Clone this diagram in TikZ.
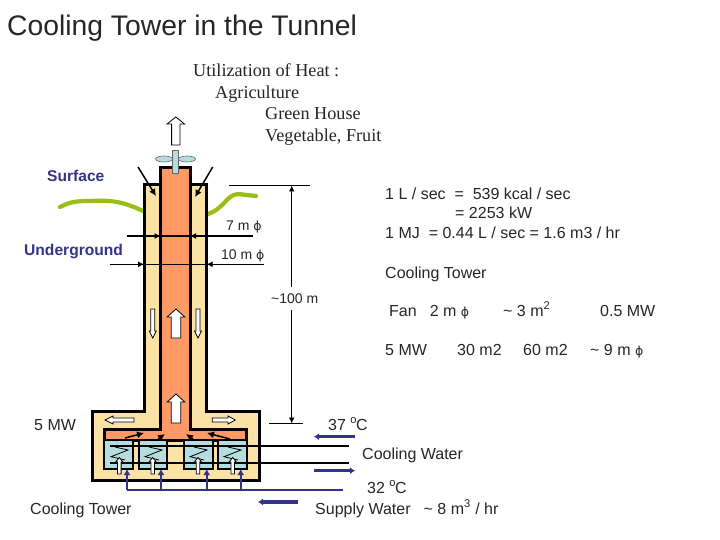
\documentclass[tikz,border=0pt]{standalone}
\usepackage{fontspec}
\setmainfont{Liberation Sans}
\newfontfamily\serifface{Liberation Serif}
\newfontfamily\phiface{DejaVu Sans}
\usetikzlibrary{arrows.meta}
\definecolor{flame}{HTML}{FF9966}
\definecolor{sand}{HTML}{FBE3A6}
\definecolor{ice}{HTML}{B5DCE0}
\definecolor{grass}{HTML}{99BF14}
\definecolor{navy}{HTML}{333388}
\newcommand{\ph}{{\phiface\fontsize{12.5}{14}\selectfont ϕ}}
\newcommand{\uparrowblock}[6]{\draw[blockarrow] (#1-#5,#3)--(#1-#5,#4)--(#1-#6,#4)--(#1,#2)--(#1+#6,#4)--(#1+#5,#4)--(#1+#5,#3)--cycle;}
\tikzset{
  txt/.style={anchor=base west,inner sep=0pt,font=\fontsize{16}{18}\selectfont,text=black!85},
  smalltxt/.style={txt,font=\fontsize{14}{16}\selectfont},
  sertxt/.style={anchor=base west,inner sep=0pt,font=\serifface\fontsize{18.2}{20}\selectfont,text=black!85},
  zonetxt/.style={anchor=base west,inner sep=0pt,font=\bfseries\fontsize{15.6}{17}\selectfont,text=navy},
  wall/.style={draw=black,line width=3pt,line join=miter},
  blockarrow/.style={draw=black,line width=0.8pt,fill=white,line join=miter},
  dim/.style={draw=black,line width=1.3pt},
  thindim/.style={draw=black,line width=0.9pt},
  dimhead/.style={dim,-{Latex[length=6pt,width=6pt]}},
  thinhead/.style={thindim,-{Latex[length=6pt,width=6pt]}},
  bluearrow/.style={draw=navy,line width=3.4pt,-{Latex[length=5pt,width=7pt]}},
  feed/.style={draw=navy,line width=2pt},
  feedhead/.style={feed,-{Latex[length=6pt,width=7pt]}},
  pipe/.style={draw=black,line width=1.6pt},
  coil/.style={draw=black,line width=0.8pt},
  air/.style={draw=black,line width=1.5pt,-{Latex[length=7pt,width=7pt]}},
  tower/.style={draw=black,line width=2.4pt,fill=ice},
  ground/.style={draw=grass,line width=4.2pt,line cap=round,line join=round},
}
\begin{document}
\begin{tikzpicture}[x=1pt,y=-1pt]
\useasboundingbox (0,0) rectangle (720,540);
\fill[white] (0,0) rectangle (720,540);
% ground
\draw[ground] (60,207) .. controls (70,202) and (75,201) .. (90,201) .. controls (110,200) and (122,201) .. (143,211);
\draw[ground] (208,214) .. controls (225,208) and (226,195) .. (238,194) -- (256,196);
% shafts
\draw[wall,fill=sand] (144,185)--(206.7,185)--(206.7,411)--(259,411)--(259,480)--(92.7,480)--(92.7,411)--(144,411)--cycle;
\draw[wall,fill=flame] (160.7,168)--(190,168)--(190,429)--(246,429)--(246,440)--(104,440)--(104,429)--(160.7,429)--cycle;
% towers
\foreach \a/\b in {104/133,139/167,184/213,218/247}{
  \draw[tower] (\a,440) rectangle (\b,469);
}
% coils
\foreach \c in {119,153,198,232}{
  \draw[coil] (\c-4,447)--(\c+9,450)--(\c-8,456.7)--(\c+6,460);
}
% pipes
\coordinate (pipeA) at (349,446);
\coordinate (pipeB) at (349,463);
\draw[pipe] (110,446)--(pipeA);
\draw[pipe] (110,463)--(pipeB);
% air arrows in chamber
\draw[air] (125,438)--(144,433);
\draw[air] (158,439)--(165,434);
\draw[air] (193,439)--(186,434);
\draw[air] (230,439)--(207,433);
% tower white arrows
\foreach \c in {119.3,152.7,198,232.7}{
  \uparrowblock{\c}{457.5}{474}{462}{1.8}{3.6}
}
% supply water
\coordinate (supplyEnd) at (342.7,490);
\draw[feed] (127,490)--(supplyEnd);
\foreach \c in {127,161,206.7,240.7}{
  \draw[feedhead] (\c,490)--(\c,469);
}
% fan
\uparrowblock{175.8}{117}{145}{124}{4.2}{8.8}
\foreach \c in {164,187}{
  \draw[draw=black!60,fill=ice,line width=0.6pt] (\c,159) ellipse [x radius=8.5,y radius=3];
}
\draw[draw=black!60,fill=ice,line width=0.6pt] (172,150.5) rectangle (178,173);
% inlet diagonals
\draw[air] (138,167)--(156,196);
\draw[air] (212.7,167)--(195,197);
% shaft arrows
\uparrowblock{176}{309}{338}{317}{4.8}{8.8}
\uparrowblock{176}{394}{423}{402}{4.8}{8.8}
\draw[blockarrow] (150.7,309)--(154.7,309)--(154.7,331)--(156.2,331)--(152.7,338)--(149.2,331)--(150.7,331)--cycle;
\draw[blockarrow] (196,309)--(200,309)--(200,331)--(201.5,331)--(198,338)--(194.5,331)--(196,331)--cycle;
\draw[blockarrow] (134,418)--(113,418)--(113,416)--(105,420)--(113,424)--(113,422)--(134,422)--cycle;
\draw[blockarrow] (212.3,418)--(228,418)--(228,416)--(235.3,420)--(228,424)--(228,422)--(212.3,422)--cycle;
% diameters
\draw[dim] (127,236)--(252.7,236);
\draw[dimhead] (140,236)--(160.7,236);
\draw[dimhead] (210,236)--(190,236);
\draw[thindim] (110,264.3)--(264,264.3);
\draw[thinhead] (125,264.3)--(144,264.3);
\draw[thinhead] (226,264.3)--(206.7,264.3);
% depth
\draw[thindim] (229,185.5)--(310,185.5);
\draw[thindim] (269,423.5)--(303,423.5);
\draw[dimhead] (291.7,287)--(291.7,185.5);
\draw[dimhead] (291.7,310)--(291.7,423.5);
% blue arrows
\draw[bluearrow] (355,436.7)--(314,436.7);
\draw[bluearrow] (314,470.7)--(355,470.7);
\draw[bluearrow] (297.7,502)--(258,502);
% text
\node[anchor=base west,inner sep=0pt,font=\fontsize{28.3}{32}\selectfont,text=black!85] (title) at (7,36) {Cooling Tower in the Tunnel};
\node[sertxt] (use1) at (193,77) {Utilization of Heat :};
\node[sertxt] (use2) at (215,99) {Agriculture};
\node[sertxt] (use3) at (265,120) {Green House};
\node[sertxt] (use4) at (265,142) {Vegetable, Fruit};
\node[zonetxt] (surface) at (47,181.5) {Surface};
\node[zonetxt] (under) at (24,255.5) {Underground};
\node[smalltxt] (seven) at (226,230) {7 m \ph};
\node[smalltxt] (ten) at (221,259) {10 m \ph};
\node[smalltxt] (depthlabel) at (271,303) {\char`\~100 m};
\node[txt] (l1) at (385,199.5) {1 L / sec \ = \ 539 kcal / sec};
\node[txt] (l2) at (455,218.5) {= 2253 kW};
\node[txt] (l3) at (385,238) {1 MJ \ = 0.44 L / sec = 1.6 m3 / hr};
\node[txt] (l4) at (385,278) {Cooling Tower};
\node[txt] (f1) at (389,316) {Fan\hspace{13pt}2 m \ph};
\node[txt] (f2) at (503,316) {\char`\~\ 3 m\textsuperscript{2}};
\node[txt] (f3) at (600,316) {0.5 MW};
\node[txt] (m1) at (385,355) {5 MW};
\node[txt] (m2) at (457,355) {30 m2};
\node[txt] (m3) at (523,355) {60 m2};
\node[txt] (m4) at (590,355) {\char`\~\ 9 m \ph};
\node[txt] (fiveL) at (34,430) {5 MW};
\node[txt] (t37) at (328,430) {37 \textsuperscript{o}\kern-1pt C};
\node[txt] (cw) at (362,459) {Cooling Water};
\node[txt] (t32) at (367,493) {32 \textsuperscript{o}\kern-1pt C};
\node[txt] (sw) at (315,514) {Supply Water\hspace{13pt}\char`\~\ 8 m\textsuperscript{3} / hr};
\node[txt] (ct) at (30,514) {Cooling Tower};
\end{tikzpicture}
\end{document}
